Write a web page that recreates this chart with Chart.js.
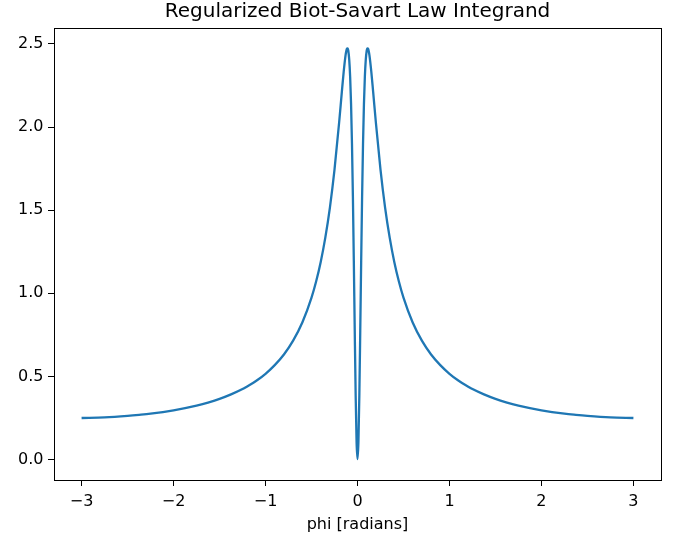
<!DOCTYPE html>
<html>
<head>
<meta charset="utf-8">
<script src="https://cdn.jsdelivr.net/npm/chart.js@4.4.0/dist/chart.umd.min.js"></script>
<style>
  html, body { margin: 0; padding: 0; background: #fff; }
  #wrap { width: 677px; height: 538px; }
</style>
</head>
<body>
<div id="wrap"><canvas id="grap1" width="677" height="538"></canvas></div>
<script>
// phi values (radians) and integrand values
var phi = [-3.0, -2.75, -2.5, -2.375, -2.25, -2.0, -1.75, -1.625, -1.5, -1.375, -1.25, -1.2, -1.1, -1.0, -0.9, -0.8, -0.7,
    -0.6, -0.5, -0.45, -0.4, -0.35, -0.3, -0.25, -0.2, -0.17, -0.15, -0.13, -0.12, -0.115, -0.11, -0.105, -0.1,
    -0.09, -0.08, -0.07, -0.06, -0.05, -0.04, -0.03, -0.02, -0.01, 0,
    0.01, 0.02, 0.03, 0.04, 0.05, 0.06, 0.07, 0.08, 0.09, 0.1, 0.105, 0.11, 0.115, 0.12, 0.13,
    0.15, 0.17, 0.2, 0.25, 0.3, 0.35, 0.4, 0.45, 0.5, 0.6, 0.7, 0.8, 0.9, 1.0, 1.1, 1.2, 1.25, 1.375, 1.5,
    1.625, 1.75, 2.0, 2.25, 2.375, 2.5, 2.75, 3.0];
var integrand = [0.250, 0.254, 0.263, 0.269, 0.276, 0.296, 0.324, 0.343, 0.365, 0.392, 0.424, 0.440, 0.474, 0.516, 0.568, 0.632, 0.715,
    0.824, 0.974, 1.071, 1.189, 1.335, 1.516, 1.744, 2.026, 2.213, 2.333, 2.431, 2.462, 2.471, 2.474, 2.471, 2.459,
    2.406, 2.303, 2.138, 1.899, 1.581, 1.196, 0.777, 0.386, 0.104, 0.003,
    0.104, 0.386, 0.777, 1.196, 1.581, 1.899, 2.138, 2.303, 2.406, 2.459, 2.471, 2.474, 2.471, 2.462, 2.431,
    2.333, 2.213, 2.026, 1.744, 1.516, 1.335, 1.189, 1.071, 0.974, 0.824, 0.715, 0.632, 0.568, 0.516, 0.474, 0.440, 0.424, 0.392, 0.365,
    0.343, 0.324, 0.296, 0.276, 0.269, 0.263, 0.254, 0.250];
var xTicks = [-3, -2, -1, 0, 1, 2, 3];
var yTicks = [0, 0.5, 1.0, 1.5, 2.0, 2.5];

var points = phi.map(function (p, i) { return { x: p, y: integrand[i] }; });

// box around the plot area, like matplotlib spines
var frame = {
    id: 'frame',
    afterDraw: function (chart) {
        var a = chart.chartArea, c = chart.ctx;
        c.save();
        c.strokeStyle = '#000';
        c.lineWidth = 1;
        c.strokeRect(Math.round(a.left) + 0.5, Math.round(a.top) + 0.5,
            Math.round(a.right - a.left), Math.round(a.bottom - a.top));
        c.restore();
    }
};

var font = 'DejaVu Sans';
Chart.defaults.font.family = font;
Chart.defaults.color = '#000';

var ctx = document.getElementById('grap1').getContext('2d');
var chart = new Chart(ctx, {
    type: 'line',
    data: {
        datasets: [{
            data: points,
            borderColor: '#1f77b4',
            borderWidth: 2.3,
            pointRadius: 0,
            fill: false,
            cubicInterpolationMode: 'monotone'
        }]
    },
    options: {
        responsive: false,
        animation: false,
        layout: { padding: { left: 0, right: 16, top: 0, bottom: 0 } },
        plugins: {
            legend: { display: false },
            tooltip: { enabled: false },
            title: {
                display: true,
                fullSize: false,
                text: 'Regularized Biot-Savart Law Integrand',
                font: { family: font, size: 20, weight: 'normal' },
                color: '#000',
                padding: { top: 0, bottom: 4 }
            }
        },
        scales: {
            x: {
                type: 'linear',
                min: -3.3,
                max: 3.3,
                afterBuildTicks: function (s) { s.ticks = xTicks.map(function (v) { return { value: v }; }); },
                afterFit: function (s) { s.height = 58; },
                grid: { drawOnChartArea: false, drawTicks: true, tickLength: 6, color: '#000' },
                border: { display: false },
                ticks: {
                    padding: 6,
                    maxRotation: 0,
                    font: { size: 16 },
                    callback: function (v) { return v < 0 ? '\u2212' + Math.abs(v) : String(v); }
                },
                title: {
                    display: true,
                    text: 'phi [radians]',
                    font: { size: 16 },
                    padding: { top: 4, bottom: 4 }
                }
            },
            y: {
                min: -0.123,
                max: 2.596,
                afterBuildTicks: function (s) { s.ticks = yTicks.map(function (v) { return { value: v }; }); },
                afterFit: function (s) { s.width = 54; },
                grid: { drawOnChartArea: false, drawTicks: true, tickLength: 6, color: '#000' },
                border: { display: false },
                ticks: {
                    padding: 4.5,
                    font: { size: 16 },
                    callback: function (v) { return v.toFixed(1); }
                }
            }
        }
    },
    plugins: [frame]
});
</script>
</body>
</html>
